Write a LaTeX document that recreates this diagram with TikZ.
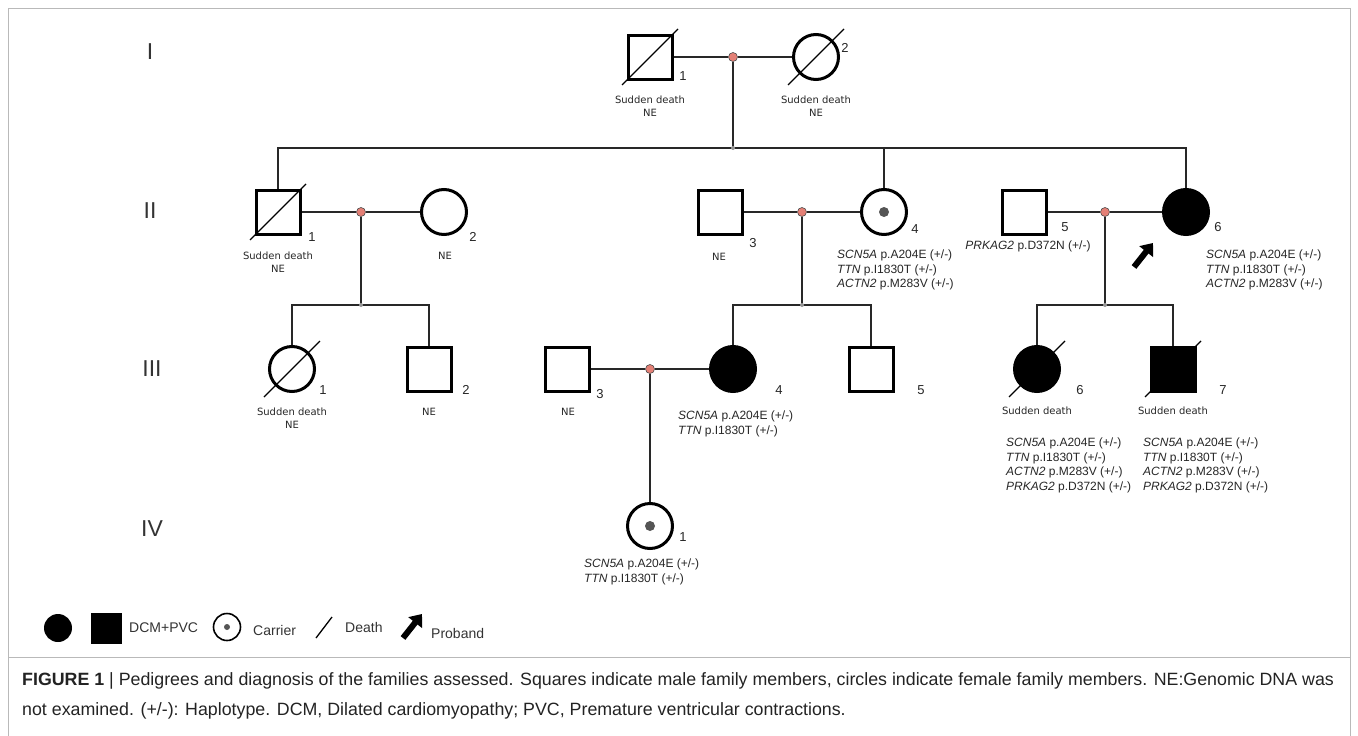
\documentclass[tikz,border=0pt]{standalone}
\usepackage{fontspec}
\setmainfont{Liberation Sans}
\newfontfamily\pedfont{DejaVu Sans}
\usetikzlibrary{arrows.meta,calc}
\pgfdeclarelayer{background}
\pgfsetlayers{background,main}
\definecolor{lnc}{RGB}{40,40,40}
\definecolor{mdot}{RGB}{228,128,118}
\definecolor{framec}{RGB}{185,185,185}
\definecolor{jdc}{RGB}{150,150,150}
\definecolor{cdot}{RGB}{85,85,85}
\definecolor{captc}{RGB}{35,35,35}
\begin{document}
\begin{tikzpicture}[x=1pt,y=-1pt,
 male/.style={draw=black,line width=3pt,minimum size=44pt,inner sep=0pt,rectangle},
 female/.style={draw=black,line width=3pt,minimum size=45pt,inner sep=0pt,circle},
 aff/.style={fill=black},
 mdotst/.style={circle,fill=mdot,draw=black!70,line width=0.6pt,minimum size=9pt,inner sep=0pt},
 jdot/.style={circle,fill=jdc,minimum size=4pt,inner sep=0pt},
 cdotst/.style={circle,fill=cdot,minimum size=10pt,inner sep=0pt},
 conn/.style={draw=lnc,line width=1.4pt},
 slash/.style={draw=black,line width=1.1pt},
 lbl/.style={font=\pedfont\fontsize{10}{12}\selectfont,inner sep=0pt,text=black!85},
 num/.style={font=\fontsize{13}{15}\selectfont,inner sep=0pt,text=black!85},
 geno/.style={font=\fontsize{12}{14.4}\selectfont,align=left,anchor=north west,inner sep=0pt,text=black!85},
 genlab/.style={font=\fontsize{23}{26}\selectfont,inner sep=0pt,text=black!80},
 legtxt/.style={font=\fontsize{14}{16}\selectfont,inner sep=0pt,anchor=west,text=black!80},
 proband/.style={line width=6pt,-{Triangle[length=11pt,width=17pt]}},
 capt/.style={font=\fontsize{17.8}{21}\selectfont,inner sep=0pt,anchor=west,text=captc},
]
\useasboundingbox (0,0) rectangle (1358,736);
% frame
\draw[framec,line width=1pt] (8,740) -- (8,8) -- (1350,8) -- (1350,740);
\draw[framec,line width=1pt] (8,657) -- (1350,657);

% generation labels
\node[genlab] (gI) at (150,52) {I};
\node[genlab] (gII) at (150,211) {II};
\node[genlab] (gIII) at (152,369) {III};
\node[genlab] (gIV) at (152,529) {IV};

% ---------- Generation I
\node[male] (i1) at (650,57) {};
\node[female] (i2) at (816,57) {};
\node[mdotst] (m1) at (733,57) {};
\draw[slash] ($(i1)+(-28,28)$) -- ($(i1)+(28,-28)$);
\draw[slash] ($(i2)+(-28,28)$) -- ($(i2)+(28,-28)$);
\node[num] (n-i1) at (683,76) {1};
\node[num] (n-i2) at (845,48) {2};
\node[lbl] (t-i1a) at (650,100) {Sudden death};
\node[lbl] (t-i1b) at (650,113) {NE};
\node[lbl] (t-i2a) at (816,100) {Sudden death};
\node[lbl] (t-i2b) at (816,113) {NE};

% ---------- Generation II
\node[jdot] (s2) at (733,148) {};
\node[male] (ii1) at (278,212) {};
\node[female] (ii2) at (444,212) {};
\node[mdotst] (m2) at (361,212) {};
\node[male] (ii3) at (720,212) {};
\node[female] (ii4) at (884,212) {};
\node[cdotst] (c-ii4) at (884,212) {};
\node[mdotst] (m3) at (802,212) {};
\node[male] (ii5) at (1024,212) {};
\node[female,aff] (ii6) at (1186,212) {};
\node[mdotst] (m4) at (1105,212) {};
\draw[slash] ($(ii1)+(-28,28)$) -- ($(ii1)+(28,-28)$);
\node[num] (n-ii1) at (312,237) {1};
\node[num] (n-ii2) at (473,237) {2};
\node[num] (n-ii3) at (753,243) {3};
\node[num] (n-ii4) at (915,229) {4};
\node[num] (n-ii5) at (1065,227) {5};
\node[num] (n-ii6) at (1218,227) {6};
\node[lbl] (t-ii1a) at (278,256) {Sudden death};
\node[lbl] (t-ii1b) at (278,269) {NE};
\node[lbl] (t-ii2) at (445,256) {NE};
\node[lbl] (t-ii3) at (719,257) {NE};
\node[geno] (g-ii4) at (837,250) {\textit{SCN5A} p.A204E (+/-)\\\textit{TTN} p.I1830T (+/-)\\\textit{ACTN2} p.M283V (+/-)};
\node[font=\fontsize{12}{14}\selectfont,inner sep=0pt,text=black!85] (g-ii5) at (1028,246) {\textit{PRKAG2} p.D372N (+/-)};
\node[geno] (g-ii6) at (1206,250) {\textit{SCN5A} p.A204E (+/-)\\\textit{TTN} p.I1830T (+/-)\\\textit{ACTN2} p.M283V (+/-)};
\coordinate (pa1) at (1134,267);
\coordinate (pa2) at (1153,243);
\draw[proband] (pa1) -- (pa2);

% ---------- Generation III
\node[jdot] (s3a) at (361,305) {};
\node[jdot] (s3b) at (802,305) {};
\node[jdot] (s3c) at (1105,305) {};
\node[female] (iii1) at (292,369) {};
\node[male] (iii2) at (429,369) {};
\node[male] (iii3) at (567,369) {};
\node[mdotst] (m5) at (650,369) {};
\node[female,aff] (iii4) at (733,369) {};
\node[male] (iii5) at (871,369) {};
\node[female,aff] (iii6) at (1037,369) {};
\node[male,aff] (iii7) at (1173,369) {};
\draw[slash] ($(iii1)+(-28,28)$) -- ($(iii1)+(28,-28)$);
\draw[slash] ($(iii6)+(-28,28)$) -- ($(iii6)+(28,-28)$);
\draw[slash] ($(iii7)+(-28,28)$) -- ($(iii7)+(28,-28)$);
\node[num] (n-iii1) at (323,390) {1};
\node[num] (n-iii2) at (466,390) {2};
\node[num] (n-iii3) at (600,394) {3};
\node[num] (n-iii4) at (779,390) {4};
\node[num] (n-iii5) at (921,390) {5};
\node[num] (n-iii6) at (1080,390) {6};
\node[num] (n-iii7) at (1223,390) {7};
\node[lbl] (t-iii1a) at (292,412) {Sudden death};
\node[lbl] (t-iii1b) at (292,425) {NE};
\node[lbl] (t-iii2) at (429,412) {NE};
\node[lbl] (t-iii3) at (568,412) {NE};
\node[lbl] (t-iii6) at (1037,411) {Sudden death};
\node[lbl] (t-iii7) at (1173,411) {Sudden death};
\node[geno] (g-iii4) at (678,411) {\textit{SCN5A} p.A204E (+/-)\\\textit{TTN} p.I1830T (+/-)};
\node[geno] (g-iii6) at (1006,438) {\textit{SCN5A} p.A204E (+/-)\\\textit{TTN} p.I1830T (+/-)\\\textit{ACTN2} p.M283V (+/-)\\\textit{PRKAG2} p.D372N (+/-)};
\node[geno] (g-iii7) at (1143,438) {\textit{SCN5A} p.A204E (+/-)\\\textit{TTN} p.I1830T (+/-)\\\textit{ACTN2} p.M283V (+/-)\\\textit{PRKAG2} p.D372N (+/-)};

% ---------- Generation IV
\node[female] (iv1) at (650,526) {};
\node[cdotst] (c-iv1) at (650,526) {};
\node[num] (n-iv1) at (683,537) {1};
\node[geno] (g-iv1) at (584,559) {\textit{SCN5A} p.A204E (+/-)\\\textit{TTN} p.I1830T (+/-)};

% ---------- connectors
\begin{pgfonlayer}{background}
\draw[conn] (i1) -- (m1) -- (i2);
\draw[conn] (m1) -- (s2.center);
\draw[conn] (ii1.north) -- (ii1.north |- s2) -- (ii6.north |- s2) -- (ii6.north);
\draw[conn] (ii4.north) -- (ii4.north |- s2);
\draw[conn] (ii1) -- (m2) -- (ii2);
\draw[conn] (ii3) -- (m3) -- (ii4);
\draw[conn] (ii5) -- (m4) -- (ii6);
\draw[conn] (m2) -- (s3a.center);
\draw[conn] (m3) -- (s3b.center);
\draw[conn] (m4) -- (s3c.center);
\draw[conn] (iii1.north) -- (iii1.north |- s3a) -- (iii2.north |- s3a) -- (iii2.north);
\draw[conn] (iii4.north) -- (iii4.north |- s3b) -- (iii5.north |- s3b) -- (iii5.north);
\draw[conn] (iii6.north) -- (iii6.north |- s3c) -- (iii7.north |- s3c) -- (iii7.north);
\draw[conn] (iii3) -- (m5) -- (iii4);
\draw[conn] (m5) -- (iv1);
\end{pgfonlayer}

% ---------- legend
\node[circle,fill=black,minimum size=28pt,inner sep=0pt] (lg1) at (58,628) {};
\node[rectangle,fill=black,minimum size=31pt,inner sep=0pt] (lg2) at (106,628) {};
\node[legtxt] (lt1) at (129,628) {DCM+PVC};
\node[circle,draw=black,line width=1.6pt,minimum size=27pt,inner sep=0pt] (lg3) at (227,627) {};
\node[circle,fill=cdot,minimum size=6pt,inner sep=0pt] (lg3d) at (227,627) {};
\node[legtxt] (lt2) at (253,630) {Carrier};
\coordinate (ld1) at (316,638);
\coordinate (ld2) at (332,617);
\draw[slash,line width=1.3pt] (ld1) -- (ld2);
\node[legtxt] (lt3) at (345,627) {Death};
\coordinate (lp1) at (403,638);
\coordinate (lp2) at (422,614);
\draw[proband] (lp1) -- (lp2);
\node[legtxt] (lt4) at (431,633) {Proband};

% ---------- caption
\node[capt] (cap1) at (22,681) {\textbf{FIGURE 1} | Pedigrees and diagnosis of the families assessed. Squares indicate male family members, circles indicate female family members. NE:Genomic DNA was};
\node[capt] (cap2) at (22,711) {not examined. (+/-): Haplotype. DCM, Dilated cardiomyopathy; PVC, Premature ventricular contractions.};
\end{tikzpicture}
\end{document}
